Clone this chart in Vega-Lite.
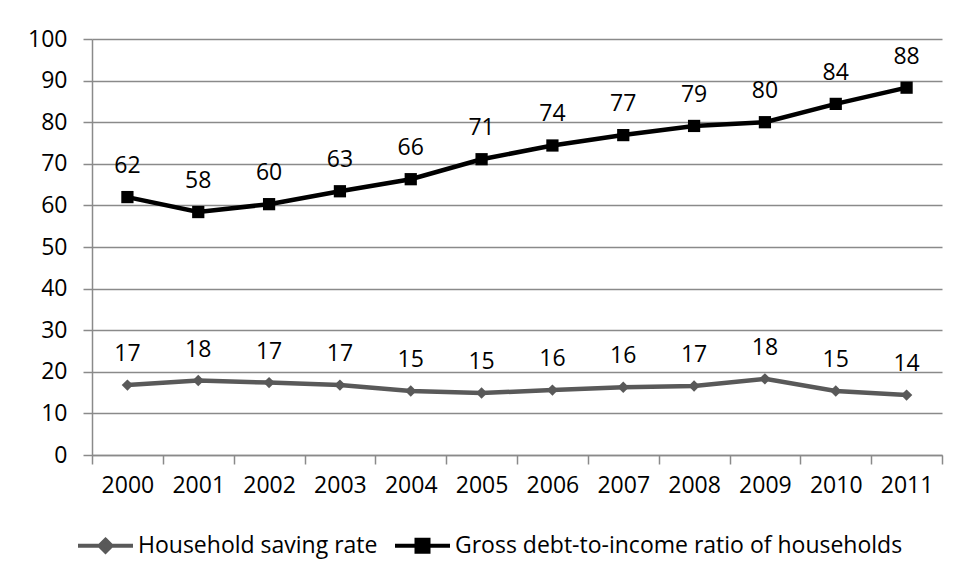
{
  "$schema": "https://vega.github.io/schema/vega-lite/v6.json",
  "width": 850,
  "height": 416,
  "autosize": {"type": "none"},
  "padding": {"left": 92, "top": 39, "right": 16, "bottom": 128},
  "background": "white",
  "config": {
    "view": {"stroke": null},
    "font": "Open Sans",
    "axis": {"labelFont": "Open Sans", "labelFontSize": 23, "labelColor": "#000000", "domainColor": "#8a8a8a", "tickColor": "#8a8a8a", "gridColor": "#8a8a8a", "domainWidth": 1.5, "tickWidth": 1.5, "gridWidth": 1.5}
  },
  "data": {
    "values": [
      {"year": 2000, "series": "Household saving rate", "value": 16.8},
      {"year": 2001, "series": "Household saving rate", "value": 17.9},
      {"year": 2002, "series": "Household saving rate", "value": 17.4},
      {"year": 2003, "series": "Household saving rate", "value": 16.8},
      {"year": 2004, "series": "Household saving rate", "value": 15.4},
      {"year": 2005, "series": "Household saving rate", "value": 14.9},
      {"year": 2006, "series": "Household saving rate", "value": 15.6},
      {"year": 2007, "series": "Household saving rate", "value": 16.3},
      {"year": 2008, "series": "Household saving rate", "value": 16.6},
      {"year": 2009, "series": "Household saving rate", "value": 18.3},
      {"year": 2010, "series": "Household saving rate", "value": 15.4},
      {"year": 2011, "series": "Household saving rate", "value": 14.4},
      {"year": 2000, "series": "Gross debt-to-income ratio of households", "value": 62.0},
      {"year": 2001, "series": "Gross debt-to-income ratio of households", "value": 58.4},
      {"year": 2002, "series": "Gross debt-to-income ratio of households", "value": 60.3},
      {"year": 2003, "series": "Gross debt-to-income ratio of households", "value": 63.4},
      {"year": 2004, "series": "Gross debt-to-income ratio of households", "value": 66.3},
      {"year": 2005, "series": "Gross debt-to-income ratio of households", "value": 71.1},
      {"year": 2006, "series": "Gross debt-to-income ratio of households", "value": 74.4},
      {"year": 2007, "series": "Gross debt-to-income ratio of households", "value": 76.9},
      {"year": 2008, "series": "Gross debt-to-income ratio of households", "value": 79.1},
      {"year": 2009, "series": "Gross debt-to-income ratio of households", "value": 80.0},
      {"year": 2010, "series": "Gross debt-to-income ratio of households", "value": 84.4},
      {"year": 2011, "series": "Gross debt-to-income ratio of households", "value": 88.3}
    ]
  },
  "layer": [
    {
      "mark": {"type": "line", "strokeWidth": 4.5},
      "encoding": {
        "x": {
          "field": "year", "type": "quantitative",
          "scale": {"domain": [1999.5, 2011.5], "nice": false, "zero": false},
          "axis": {
            "title": null, "grid": false,
            "values": [1999.5, 2000.5, 2001.5, 2002.5, 2003.5, 2004.5, 2005.5, 2006.5, 2007.5, 2008.5, 2009.5, 2010.5, 2011.5],
            "labelExpr": "datum.value < 2011 ? format(datum.value + 0.5, 'd') : ''",
            "labelOffset": 35.4, "tickSize": 9, "labelPadding": 10, "labelBound": false, "labelOverlap": false, "labelFlush": false
          }
        },
        "y": {
          "field": "value", "type": "quantitative",
          "scale": {"domain": [0, 100], "nice": false},
          "axis": {"title": null, "values": [0, 10, 20, 30, 40, 50, 60, 70, 80, 90, 100], "tickSize": 9, "labelPadding": 16, "grid": true}
        },
        "color": {
          "field": "series", "type": "nominal",
          "scale": {"domain": ["Household saving rate", "Gross debt-to-income ratio of households"], "range": ["#595959", "#000000"]},
          "legend": {
            "orient": "none", "legendX": 2, "legendY": 495, "direction": "horizontal", "title": null,
            "padding": 0, "symbolSize": 100, "symbolStrokeWidth": 4, "labelFont": "Open Sans", "labelFontSize": 23, "labelColor": "#000000",
            "labelOffset": 21, "columnPadding": 9, "labelLimit": 0,
            "encode": {
              "symbols": {
                "update": {
                  "shape": {"signal": "datum.value === 'Household saving rate' ? 'M-5.5,0L5.5,0M0,-1.2L1.2,0L0,1.2L-1.2,0Z' : 'M-5.5,0L5.5,0M-1.2,-1.2L1.2,-1.2L1.2,1.2L-1.2,1.2Z'"},
                  "fill": {"signal": "scale('color', datum.value)"},
                  "stroke": {"signal": "scale('color', datum.value)"},
                  "strokeWidth": {"value": 4}
                }
              }
            }
          }
        }
      }
    },
    {
      "transform": [{"filter": "datum.series === 'Household saving rate'"}],
      "mark": {"type": "point", "shape": "diamond", "filled": true, "size": 130, "opacity": 1, "color": "#595959"},
      "encoding": {
        "x": {"field": "year", "type": "quantitative"},
        "y": {"field": "value", "type": "quantitative"}
      }
    },
    {
      "transform": [{"filter": "datum.series !== 'Household saving rate'"}],
      "mark": {"type": "point", "shape": "square", "filled": true, "size": 150, "opacity": 1, "color": "#000000"},
      "encoding": {
        "x": {"field": "year", "type": "quantitative"},
        "y": {"field": "value", "type": "quantitative"}
      }
    },
    {
      "mark": {"type": "text", "dy": -31, "baseline": "middle", "align": "center", "fontSize": 23, "font": "Open Sans", "color": "#000000"},
      "encoding": {
        "x": {"field": "year", "type": "quantitative"},
        "y": {"field": "value", "type": "quantitative"},
        "text": {"field": "value", "type": "quantitative", "format": ".0f"}
      }
    }
  ]
}
